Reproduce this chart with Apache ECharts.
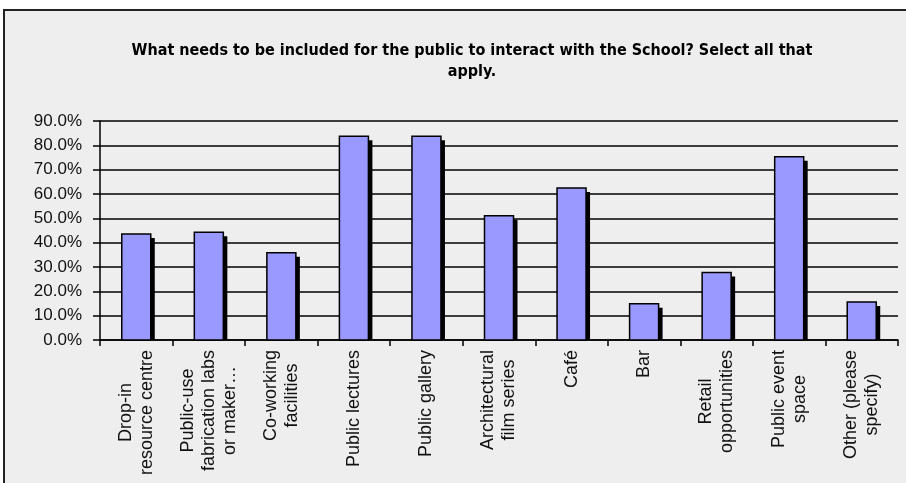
<!DOCTYPE html>
<html>
<head>
<meta charset="utf-8">
<style>
html,body{margin:0;padding:0;background:#ffffff;}
#chart{width:906px;height:483px;}
</style>
<script src="https://cdn.jsdelivr.net/npm/echarts@6/dist/echarts.min.js"></script>
</head>
<body>
<div id="chart"></div>
<script>
const titleText = "What needs to be included for the public to interact with the School? Select all that\napply.";
const categories = [
  "Drop-in\nresource centre",
  "Public-use\nfabrication labs\nor maker…",
  "Co-working\nfacilities",
  "Public lectures",
  "Public gallery",
  "Architectural\nfilm series",
  "Café",
  "Bar",
  "Retail\nopportunities",
  "Public event\nspace",
  "Other (please\nspecify)"
];
const values = [43.6, 44.3, 35.9, 83.7, 83.7, 51.1, 62.5, 14.9, 27.7, 75.3, 15.6];
const yTicks = { min: 0, max: 90, interval: 10 };

const chart = echarts.init(document.getElementById('chart'), null, {renderer: 'canvas'});
const font = "'Liberation Sans', Arial, sans-serif";
const BAR_W = 29, SH = 4;

function renderBar(params, api) {
  const idx = api.value(0);
  const val = api.value(1);
  const top = api.coord([idx, val]);
  const base = api.coord([idx, 0]);
  const x = top[0] - BAR_W / 2;
  const h = base[1] - top[1];
  return {
    type: 'group',
    children: [
      { type: 'rect', shape: { x: x + SH, y: top[1] + SH, width: BAR_W, height: Math.max(0, h - SH) },
        style: { fill: '#000000' } },
      { type: 'rect', shape: { x: x, y: top[1], width: BAR_W, height: h },
        style: { fill: '#9999ff', stroke: '#000000', lineWidth: 1.5 } }
    ]
  };
}

chart.setOption({
  backgroundColor: '#ffffff',
  animation: false,
  graphic: [{
    type: 'rect', z: -10, silent: true,
    shape: { x: 4, y: 10, width: 940, height: 520 },
    style: { fill: '#eeeeee', stroke: '#222222', lineWidth: 2 }
  }],
  title: {
    text: titleText,
    left: 467, top: 35, textAlign: 'center',
    textStyle: { fontFamily: "'Liberation Sans Narrow', 'DejaVu Sans Condensed', 'Liberation Sans', sans-serif", fontWeight: 'bold', fontSize: 16, lineHeight: 21, color: '#000' }
  },
  grid: { left: 100, right: 8, top: 121, bottom: 143, containLabel: false },
  xAxis: {
    type: 'category',
    data: categories,
    boundaryGap: true,
    axisLine: { lineStyle: { color: '#000', width: 1.5 } },
    axisTick: { show: true, length: 6, lineStyle: { color: '#000', width: 1.5 } },
    axisLabel: {
      rotate: 90, interval: 0, margin: 10,
      color: '#111', fontFamily: font, fontSize: 18, lineHeight: 21,
      formatter: function (v) { return v.split('\n').map(s => '{c|' + s + '}').join('\n'); },
      rich: { c: { align: 'center', fontFamily: font, fontSize: 18, lineHeight: 21, color: '#111' } }
    }
  },
  yAxis: {
    type: 'value',
    min: yTicks.min, max: yTicks.max, interval: yTicks.interval,
    axisLine: { show: true, lineStyle: { color: '#000', width: 1.5 } },
    axisTick: { show: true, length: 7, lineStyle: { color: '#000', width: 1.5 } },
    axisLabel: { color: '#111', fontFamily: font, fontSize: 17, margin: 18,
      formatter: v => v.toFixed(1) + '%' },
    splitLine: { show: true, lineStyle: { color: '#000', width: 1.5 } }
  },
  series: [{
    type: 'custom',
    renderItem: renderBar,
    encode: { x: 0, y: 1 },
    data: values.map((v, i) => [i, v]),
    z: 3
  }]
});
</script>
</body>
</html>
